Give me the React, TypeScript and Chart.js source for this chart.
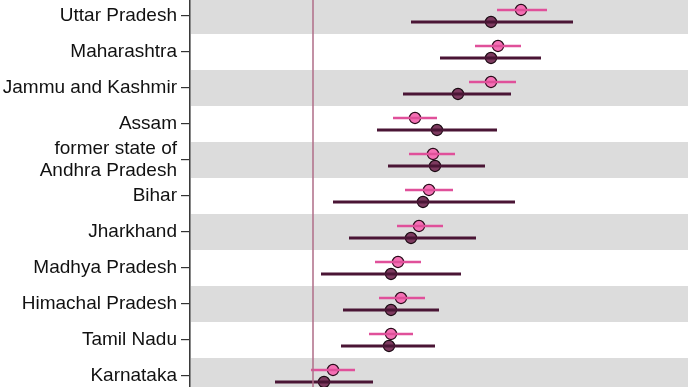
import React, { useEffect, useRef } from "react";
import { Chart, registerables } from "chart.js";

Chart.register(...registerables);

const states: (string | string[])[] = [
  "Uttar Pradesh",
  "Maharashtra",
  "Jammu and Kashmir",
  "Assam",
  ["former state of", "Andhra Pradesh"],
  "Bihar",
  "Jharkhand",
  "Madhya Pradesh",
  "Himachal Pradesh",
  "Tamil Nadu",
  "Karnataka",
];

// Series A (pink): estimate, lower, upper
const pinkEst = [2.04, 1.925, 1.89, 1.51, 1.6, 1.58, 1.53, 1.425, 1.44, 1.39, 1.1];
const pinkLo = [1.92, 1.81, 1.78, 1.4, 1.48, 1.46, 1.42, 1.31, 1.33, 1.28, 0.99];
const pinkHi = [2.17, 2.04, 2.015, 1.62, 1.71, 1.7, 1.65, 1.54, 1.56, 1.5, 1.21];

// Series B (dark): estimate, lower, upper
const darkEst = [1.89, 1.89, 1.725, 1.62, 1.61, 1.55, 1.49, 1.39, 1.39, 1.38, 1.055];
const darkLo = [1.49, 1.635, 1.45, 1.32, 1.375, 1.1, 1.18, 1.04, 1.15, 1.14, 0.81];
const darkHi = [2.3, 2.14, 1.99, 1.92, 1.86, 2.01, 1.815, 1.74, 1.63, 1.61, 1.3];

const referenceValue = 1;
const xMin = 0.385;
const xMax = 2.875;
const yMin = -0.444;
const yMax = 10.306;
const pinkOffset = -1 / 6;
const darkOffset = 1 / 6;

const bandsPlugin = {
  id: "bands",
  beforeDatasetsDraw(chart: any) {
    const { ctx, chartArea, scales } = chart;
    const y = scales.y;
    ctx.save();
    ctx.beginPath();
    ctx.rect(chartArea.left, chartArea.top, chartArea.right - chartArea.left, chartArea.bottom - chartArea.top);
    ctx.clip();
    ctx.fillStyle = "#dcdcdc";
    states.forEach((_, i) => {
      if (i % 2 === 0) {
        const t = y.getPixelForValue(i - 0.5);
        const b = y.getPixelForValue(i + 0.5);
        ctx.fillRect(chartArea.left + 1, Math.min(t, b), chartArea.right - chartArea.left, Math.abs(b - t));
      }
    });
    ctx.restore();
  },
};

function errorSegments(lo: number[], hi: number[], off: number) {
  const out: any[] = [];
  lo.forEach((l, i) => {
    out.push({ x: l, y: i + off });
    out.push({ x: hi[i], y: i + off });
    out.push({ x: l, y: null });
  });
  return out;
}

export default function App() {
  const ref = useRef<HTMLCanvasElement>(null);
  useEffect(() => {
    document.body.style.margin = "0";
    const chart = new Chart(ref.current!, {
      type: "scatter",
      data: {
        datasets: [
          {
            type: "line",
            data: [
              { x: referenceValue, y: yMin - 1 },
              { x: referenceValue, y: yMax + 1 },
            ],
            borderColor: "#b06e88",
            borderWidth: 1.5,
            pointRadius: 0,
            showLine: true,
          } as any,
          {
            type: "line",
            data: errorSegments(darkLo, darkHi, darkOffset),
            borderColor: "#4a1535",
            borderWidth: 3.2,
            pointRadius: 0,
            spanGaps: false,
            showLine: true,
          } as any,
          {
            data: darkEst.map((v, i) => ({ x: v, y: i + darkOffset })),
            backgroundColor: "#7d3a5f",
            borderColor: "#1a0a12",
            borderWidth: 1.2,
            pointRadius: 5.6,
          },
          {
            type: "line",
            data: errorSegments(pinkLo, pinkHi, pinkOffset),
            borderColor: "#e0509a",
            borderWidth: 2.6,
            pointRadius: 0,
            spanGaps: false,
            showLine: true,
          } as any,
          {
            data: pinkEst.map((v, i) => ({ x: v, y: i + pinkOffset })),
            backgroundColor: "#f470b4",
            borderColor: "#2a0a1a",
            borderWidth: 1.2,
            pointRadius: 5.6,
          },
        ],
      },
      options: {
        animation: false,
        responsive: false,
        maintainAspectRatio: false,
        layout: { padding: 0, autoPadding: false },
        plugins: { legend: { display: false }, tooltip: { enabled: false } },
        scales: {
          x: { type: "linear", display: false, min: xMin, max: xMax },
          y: {
            type: "linear",
            reverse: true,
            min: yMin,
            max: yMax,
            afterBuildTicks: (scale: any) => {
              scale.ticks = states.map((_, i) => ({ value: i }));
            },
            afterFit: (scale: any) => {
              scale.width = 190;
              scale.paddingTop = 0;
              scale.paddingBottom = 0;
            },
            ticks: {
              autoSkip: false,
              padding: 4,
              color: "#111",
              font: { family: "Liberation Sans, Arial, sans-serif", size: 19, lineHeight: 1.15 },
              callback: (v: any) => states[v as number] as any,
            },
            grid: {
              drawOnChartArea: false,
              drawTicks: true,
              tickLength: 9,
              color: "#333",
              lineWidth: 1.2,
            },
            border: { display: true, color: "#3a3a3a", width: 1.6 },
          },
        },
      },
      plugins: [bandsPlugin],
    } as any);
    return () => chart.destroy();
  }, []);
  return (
    <div style={{ position: "fixed", left: 0, top: 0, width: 688, height: 387, background: "#fff" }}>
      <canvas ref={ref} width={688} height={387} style={{ display: "block" }} />
    </div>
  );
}
